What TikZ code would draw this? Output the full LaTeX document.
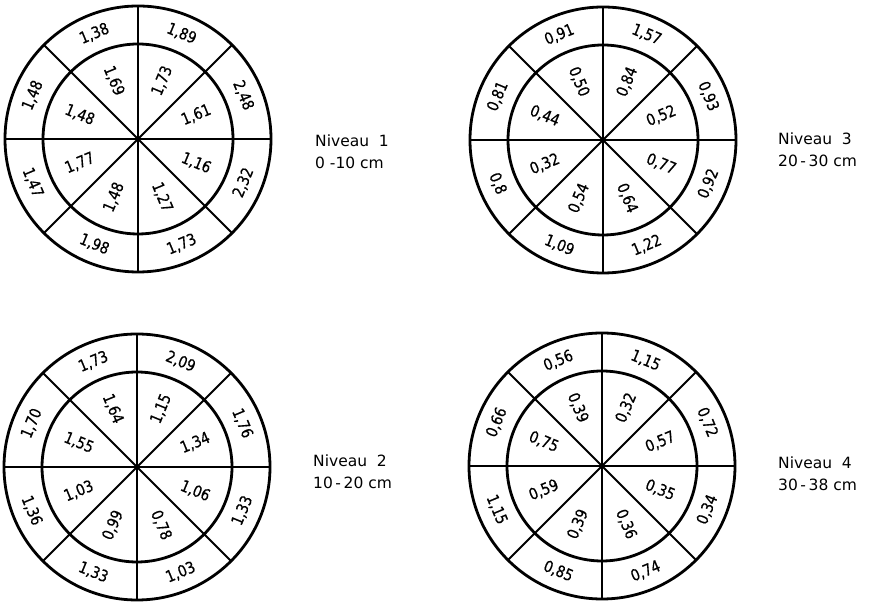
\documentclass[tikz,border=0pt]{standalone}
\usepackage{fontspec}
\setmainfont{DejaVu Sans}
\newfontfamily\valfont{DejaVu Sans}[FakeStretch=0.85,FakeBold=0.6]
\usetikzlibrary{positioning}
\tikzstyle{ring} = [line width=2.8pt]
\tikzstyle{spoke} = [line width=1.8pt]
\tikzstyle{lvl} = [align=left, anchor=west]
\tikzstyle{val} = [font=\valfont\fontsize{16}{18}\selectfont]

\begin{document}
\begin{tikzpicture}
    [x=1pt,y=1pt,every node/.style={inner sep=0pt,
    font=\fontsize{15.5}{22}\selectfont}]
    \useasboundingbox (0,0) rectangle (871,602);
    \coordinate (c1) at (138,463);
    \coordinate (c2) at (137,135);
    \coordinate (c3) at (603,462);
    \coordinate (c4) at (602,136);
    % rings and spokes
    \foreach \c in {c1,c2,c3,c4}{
    \draw[ring] (\c) circle (133) (\c) circle (95);
    \foreach \a in {0,45,...,315}
    \draw[spoke] (\c) -- ++(\a:133);
    }
    % values, outer ring / inner ring
    \foreach \c/\vals in {
    c1/{2{,}48/1{,}61, 1{,}89/1{,}73, 1{,}38/1{,}69, 1{,}48/1{,}48,
        1{,}47/1{,}77, 1{,}98/1{,}48, 1{,}73/1{,}27, 2{,}32/1{,}16},
    c2/{1{,}76/1{,}34, 2{,}09/1{,}15, 1{,}73/1{,}64, 1{,}70/1{,}55,
        1{,}36/1{,}03, 1{,}33/0{,}99, 1{,}03/0{,}78, 1{,}33/1{,}06},
    c3/{0{,}93/0{,}52, 1{,}57/0{,}84, 0{,}91/0{,}50, 0{,}81/0{,}44,
        0{,}8/0{,}32, 1{,}09/0{,}54, 1{,}22/0{,}64, 0{,}92/0{,}77},
    c4/{0{,}72/0{,}57, 1{,}15/0{,}32, 0{,}56/0{,}39, 0{,}66/0{,}75,
        1{,}15/0{,}59, 0{,}85/0{,}39, 0{,}74/0{,}36, 0{,}34/0{,}35}}{
    \foreach \o/\i [count=\k] in \vals {
    \pgfmathsetmacro\a{45*\k-22.5}
    \pgfmathsetmacro\ro{ifthenelse(\a<180,\a-90,\a+90)}
    \pgfmathsetmacro\ri{ifthenelse(and(\a>90,\a<270),\a-180,\a)}
    \node[val, rotate=\ro] (\c o\k) at ([shift={(\a:114)}]\c) {\o};
    \node[val, rotate=\ri] (\c i\k) at ([shift={(\a:63)}]\c) {\i};
    }}
    \node[lvl, right=177pt of c1, yshift=-13pt] (lv1) {Niveau\ \ 1\\0 -10 cm};
    \node[lvl, right=176pt of c2, yshift=-5pt] (lv2) {Niveau\ \ 2\\10\,-\,20 cm};
    \node[lvl, right=175pt of c3, yshift=-10pt] (lv3) {Niveau\ \ 3\\20\,-\,30 cm};
    \node[lvl, right=176pt of c4, yshift=-8pt] (lv4) {Niveau\ \ 4\\30\,-\,38 cm};
\end{tikzpicture}
\end{document}
